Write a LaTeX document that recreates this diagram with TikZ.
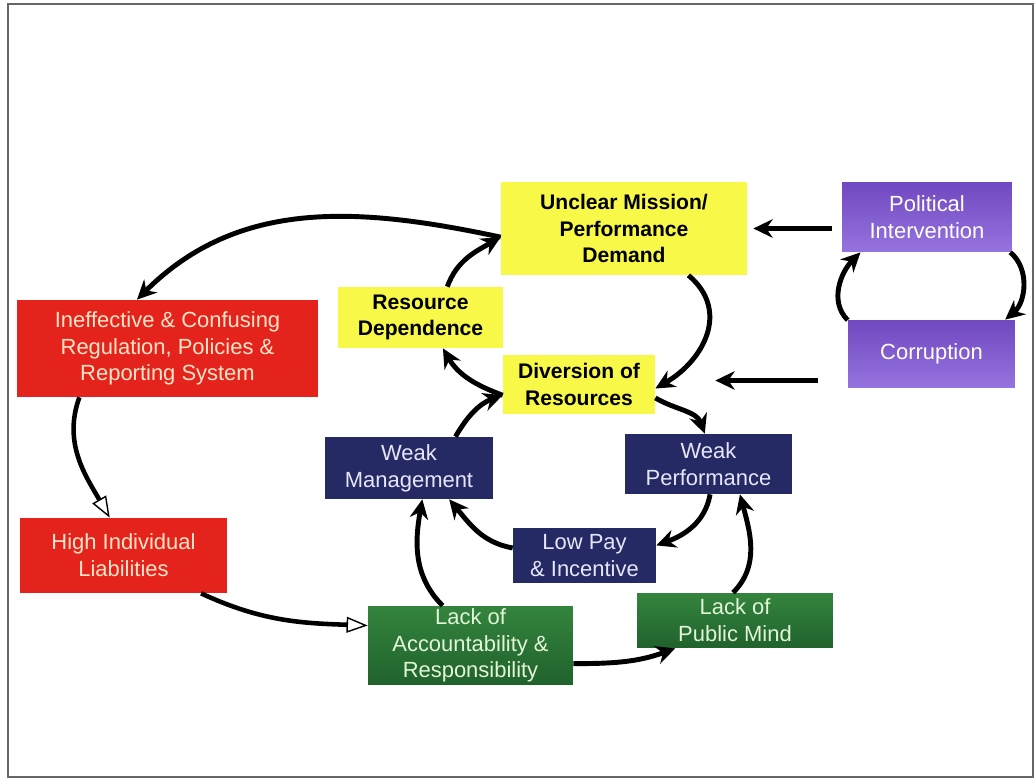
\documentclass[tikz,border=0pt]{standalone}
\usepackage{fontspec}
\setmainfont{Liberation Sans}
\usetikzlibrary{arrows.meta}
\usetikzlibrary{calc}
\definecolor{boxyellow}{RGB}{248,248,72}
\definecolor{boxred}{RGB}{228,36,28}
\definecolor{boxnavy}{RGB}{38,42,100}
\definecolor{greentop}{RGB}{52,132,62}
\definecolor{greenbot}{RGB}{32,98,44}
\definecolor{purpletop}{RGB}{112,72,192}
\definecolor{purplebot}{RGB}{150,116,222}
\definecolor{redtext}{RGB}{255,228,200}
\definecolor{navytext}{RGB}{230,230,250}
\definecolor{greentext}{RGB}{225,245,215}
\tikzset{
  every picture/.style={font={\fontsize{12.5}{15.2}\selectfont}, >={Stealth[length=11pt,width=10.5pt]}}}

\begin{document}
\begin{tikzpicture}[x=0.02cm, y=0.02cm,
    box/.style={inner sep=0pt, align=center},
    goal/.style={box, fill=boxyellow, font={\fontsize{12}{15.2}\selectfont\bfseries}},
    rule/.style={box, fill=boxred, text=redtext},
    staff/.style={box, fill=boxnavy, text=navytext},
    habit/.style={box, top color=greentop, bottom color=greenbot, text=greentext},
    outside/.style={box, top color=purpletop, bottom color=purplebot, text=white},
    flow/.style={->, line width=2.8pt},
    hollow/.style={-{Triangle[open, length=12pt, width=9pt, line width=0.8pt]}, line width=2.6pt}]

    \useasboundingbox (0,0) rectangle (1035,-780);
    \draw[black!60, line width=1.1pt] (8,-4) rectangle (1033,-777);

    \begin{scope}
      \node[goal, minimum width=4.92cm, minimum height=1.86cm] (UM) at (624,-228.5) {Unclear Mission/\\Performance\\Demand};
      \node[goal, minimum width=3.30cm, minimum height=1.22cm] (RD) at (420.5,-317.5) {Resource\\Dependence};
      \node[goal, minimum width=3.04cm, minimum height=1.18cm] (DR) at (579,-384.5) {Diversion of\\Resources};
    \end{scope}

    \begin{scope}
      \node[outside, minimum width=3.40cm, minimum height=1.40cm] (PI) at (927,-217) {Political\\Intervention};
      \node[outside, minimum width=3.34cm, minimum height=1.36cm] (CO) at (931.5,-354) {Corruption};
    \end{scope}

    \begin{scope}
      \node[rule, minimum width=6.02cm, minimum height=1.94cm] (IC) at (167.5,-348.5) {Ineffective \& Confusing\\Regulation, Policies \&\\Reporting System};
      \node[rule, minimum width=4.14cm, minimum height=1.50cm] (HIL) at (123.5,-555.5) {High Individual\\Liabilities};
    \end{scope}

    \begin{scope}
      \node[staff, minimum width=3.36cm, minimum height=1.24cm] (WM) at (409,-468) {Weak\\Management};
      \node[staff, minimum width=3.34cm, minimum height=1.20cm] (WP) at (708.5,-464) {Weak\\Performance};
      \node[staff, minimum width=2.86cm, minimum height=1.10cm] (LP) at (584.5,-555.5) {Low Pay\\\& Incentive};
    \end{scope}

    \begin{scope}
      \node[habit, minimum width=4.10cm, minimum height=1.58cm] (LoA) at (470.5,-645.5) {Lack of\\Accountability \&\\Responsibility};
      \node[habit, minimum width=3.92cm, minimum height=1.10cm] (LPM) at (735,-620.5) {Lack of\\Public Mind};
    \end{scope}

    \path[flow] (UM.184) edge[out=168, in=45] (IC.122);
    \path[flow] (RD.49) edge[out=70, in=210] (UM.184);
    \path[flow] (DR.188) edge[out=160, in=-60] (RD.306);
    \path[flow] (WM.34) edge[out=60, in=200] (DR.188);
    \path[flow] (UM.-36) edge[out=-40, in=30, looseness=1.2] (DR.-3);
    \path[flow] (DR.-10) edge[out=-30, in=110] (WP.97);
    \path[flow] (WP.-87) edge[out=-100, in=20] (LP.8);
    \path[flow] (LP.174) edge[out=170, in=-50] (WM.-38);
    \path[flow] (LoA.125) edge[out=135, in=-100] (WM.-67);
    \path[flow] (LoA.-10) edge[out=0, in=200] (LPM.205);
    \path[flow] (LPM.94) edge[out=45, in=-75] (WP.-44);

    \path[hollow] (IC.209) edge[out=-110, in=120] (HIL.110);
    \path[hollow] (HIL.-26) edge[out=-25, in=178] (LoA.169);

    \path[flow] (PI.-23) edge[out=-40, in=40] (CO.25);
    \path[flow] (CO.158) edge[out=135, in=225] (PI.208);
    \draw[flow] ($(PI.west |- UM.east)+(-10,0)$) -- ($(UM.east)+(6,0)$);
    \draw[flow] ($(CO.west |- DR.east)+(-30,4)$) -- ($(DR.east)+(60,4)$);
  \end{tikzpicture}
\end{document}
